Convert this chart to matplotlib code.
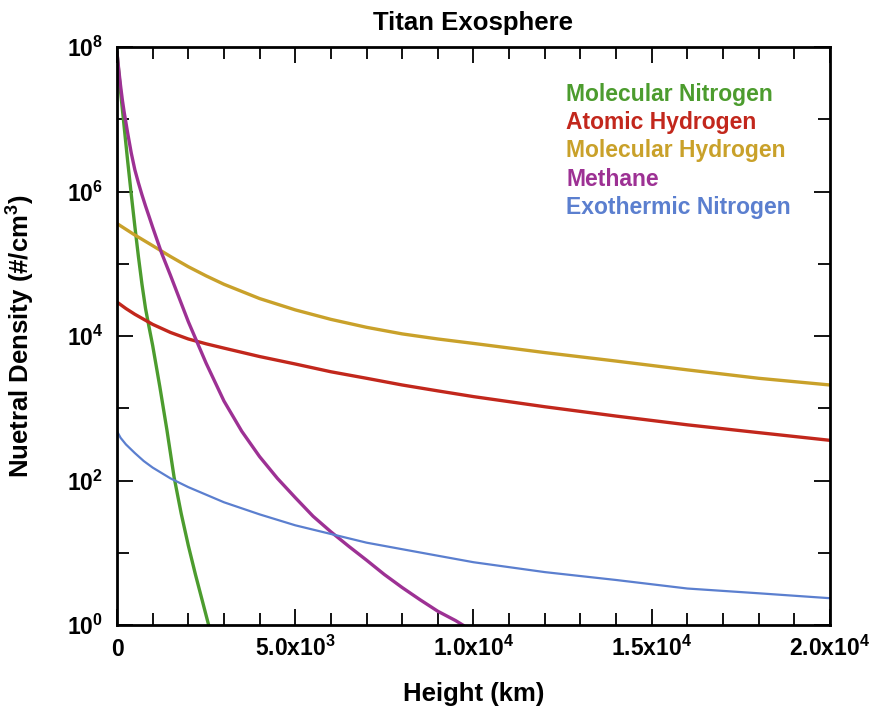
import matplotlib
matplotlib.use("Agg")
import matplotlib.pyplot as plt
from matplotlib.ticker import FixedLocator, MultipleLocator, NullFormatter

plt.rcParams["font.family"] = ["Liberation Sans", "DejaVu Sans"]
plt.rcParams["font.weight"] = "bold"
plt.rcParams["mathtext.fontset"] = "custom"
plt.rcParams["mathtext.rm"] = "Liberation Sans:bold"
plt.rcParams["mathtext.it"] = "Liberation Sans:bold"
plt.rcParams["mathtext.bf"] = "Liberation Sans:bold"

# values (height in km, density in #/cm^3)
n2_height = [0, 100, 200, 300, 400, 500, 600, 700, 800, 900, 1000, 1200,
             1400, 1600, 1800, 2000, 2200, 2400, 2570]
n2_density = [8.3e7, 2.4e7, 7.9e6, 2.6e6, 9.1e5, 3.3e5, 1.26e5, 5.2e4, 2.4e4,
              1.32e4, 7.4e3, 2.0e3, 500, 112, 35, 12.6, 5.0, 2.1, 1.0]

h_height = [0, 250, 500, 1000, 1500, 2000, 2500, 3000, 4000, 5000, 6000,
            7000, 8000, 9000, 10000, 12000, 14000, 16000, 18000, 20000]
h_density = [2.95e4, 2.4e4, 2.0e4, 1.45e4, 1.12e4, 9.1e3, 7.8e3, 6.8e3,
             5.2e3, 4.1e3, 3.2e3, 2.6e3, 2.1e3, 1.74e3, 1.45e3, 1.05e3, 780,
             590, 460, 360]

h2_height = [0, 250, 500, 1000, 1500, 2000, 2500, 3000, 4000, 5000, 6000,
             7000, 8000, 9000, 10000, 12000, 14000, 16000, 18000, 20000]
h2_density = [3.6e5, 3.0e5, 2.5e5, 1.78e5, 1.26e5, 9.1e4, 6.8e4, 5.2e4,
              3.3e4, 2.3e4, 1.7e4, 1.32e4, 1.07e4, 9.1e3, 7.9e3, 5.9e3,
              4.5e3, 3.4e3, 2.6e3, 2.1e3]

ch4_height = [0, 50, 100, 150, 200, 300, 400, 500, 600, 700, 800, 900, 1000,
              1250, 1500, 1750, 2000, 2500, 3000, 3500, 4000, 4500, 5000,
              5500, 6000, 6500, 7000, 7500, 8000, 8500, 9000, 9500, 9700]
ch4_density = [8.3e7, 4.8e7, 2.9e7, 1.85e7, 1.26e7, 6.4e6, 3.4e6, 2.0e6,
               1.32e6, 9.0e5, 6.3e5, 4.5e5, 3.2e5, 1.41e5, 6.9e4, 3.3e4,
               1.58e4, 4.2e3, 1.26e3, 480, 214, 107, 58, 32, 19.5, 12.3, 7.9,
               5.0, 3.3, 2.24, 1.55, 1.15, 1.0]

exo_height = [0, 100, 250, 500, 750, 1000, 1500, 2000, 3000, 4000, 5000,
              6000, 7000, 8000, 9000, 10000, 12000, 14000, 16000, 18000,
              20000]
exo_density = [480, 390, 316, 240, 186, 151, 107, 81, 50, 34, 24, 18.2, 13.8,
               11.2, 9.1, 7.4, 5.4, 4.2, 3.2, 2.75, 2.35]

x_ticks = [0, 5000, 10000, 15000, 20000]
x_tick_labels = ["0", r"5.0x10$^{3}$", r"1.0x10$^{4}$", r"1.5x10$^{4}$",
                 r"2.0x10$^{4}$"]
y_ticks = [1e0, 1e2, 1e4, 1e6, 1e8]
y_tick_labels = [r"10$^{0}$", r"10$^{2}$", r"10$^{4}$", r"10$^{6}$",
                 r"10$^{8}$"]

fig = plt.figure(figsize=(8.7, 7.06), dpi=100)
ax = fig.add_axes([0.1345, 0.1147, 0.8195, 0.8187])

ax.plot(n2_height, n2_density, color="#4c9c2e", lw=2.4,
        label="Molecular Nitrogen")
ax.plot(h_height, h_density, color="#c2271c", lw=2.4,
        label="Atomic Hydrogen")
ax.plot(h2_height, h2_density, color="#c9a12a", lw=2.4,
        label="Molecular Hydrogen")
ax.plot(ch4_height, ch4_density, color="#9d3194", lw=2.4, label="Methane")
ax.plot(exo_height, exo_density, color="#5b7fcf", lw=1.6,
        label="Exothermic Nitrogen")

ax.set_yscale("log")
ax.set_xlim(0, 20000)
ax.set_ylim(1, 1e8)

ax.xaxis.set_major_locator(FixedLocator(x_ticks))
ax.set_xticklabels(x_tick_labels)
ax.xaxis.set_minor_locator(MultipleLocator(1000))
ax.yaxis.set_major_locator(FixedLocator(y_ticks))
ax.set_yticklabels(y_tick_labels)
ax.yaxis.set_minor_locator(FixedLocator([1e1, 1e3, 1e5, 1e7]))
ax.yaxis.set_minor_formatter(NullFormatter())

ax.tick_params(which="both", direction="in", top=True, right=True,
               width=1.3, labelsize=16.5)
ax.tick_params(which="major", length=11.5)
ax.tick_params(which="minor", length=8.5)
ax.tick_params(axis="x", pad=22)
ax.tick_params(axis="y", pad=10)
for lbl in ax.get_xticklabels():
    lbl.set_verticalalignment("baseline")
for spine in ax.spines.values():
    spine.set_linewidth(2.0)

ax.set_title("Titan Exosphere", fontsize=18.5, fontweight="bold", pad=12)
ax.set_xlabel("Height (km)", fontsize=18.5, fontweight="bold")
ax.xaxis.set_label_coords(0.5, -0.098)
ax.set_ylabel(r"Nuetral Density (#/cm$^{3}$)", fontsize=18.5,
              fontweight="bold")
ax.yaxis.set_label_coords(-0.112, 0.5)

leg = ax.legend(loc="upper left", bbox_to_anchor=(0.63, 0.938),
                frameon=False, borderpad=0, borderaxespad=0,
                handlelength=0, handletextpad=0, labelspacing=0.23,
                labelcolor="linecolor", prop={"size": 16.5, "weight": "bold"})
for h in leg.legend_handles:
    h.set_visible(False)

fig.savefig("out.png", dpi=100, facecolor="white")
